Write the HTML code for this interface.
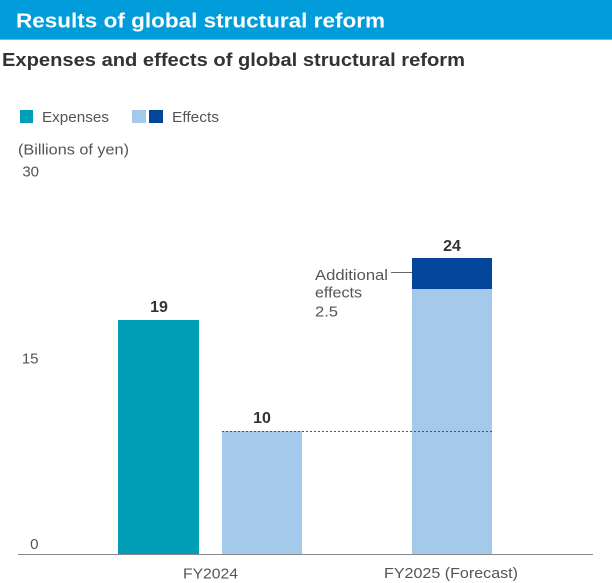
<!DOCTYPE html>
<html><head><meta charset="utf-8"><style>
html,body{margin:0;padding:0;background:#fff;}
svg{display:block;}
text{font-family:"Liberation Sans",sans-serif;}
</style></head><body>
<svg width="612" height="583" viewBox="0 0 612 583" xmlns="http://www.w3.org/2000/svg">
<rect x="0" y="0" width="612" height="40" fill="#009dda"/>
<rect x="0" y="39" width="612" height="1" fill="#5cbde6"/>
<text x="16" y="27.5" font-size="20" font-weight="bold" fill="#fff" textLength="369" lengthAdjust="spacingAndGlyphs">Results of global structural reform</text>
<text x="2" y="66" font-size="18" font-weight="bold" fill="#333" textLength="463" lengthAdjust="spacingAndGlyphs">Expenses and effects of global structural reform</text>

<rect x="20" y="110" width="13" height="13" fill="#009fb8"/>
<text x="42" y="122" font-size="15" fill="#555" textLength="67" lengthAdjust="spacingAndGlyphs">Expenses</text>
<rect x="132" y="110" width="14" height="13" fill="#a5c9ea"/>
<rect x="149" y="110" width="14" height="13" fill="#03459a"/>
<text x="172" y="122" font-size="15" fill="#555" textLength="47" lengthAdjust="spacingAndGlyphs">Effects</text>

<text x="18" y="154.5" font-size="15" fill="#555" textLength="111" lengthAdjust="spacingAndGlyphs">(Billions of yen)</text>
<text x="39" y="176.5" font-size="15" fill="#555" text-anchor="end">30</text>
<text x="38.5" y="363.5" font-size="15" fill="#555" text-anchor="end">15</text>
<text x="38.5" y="549" font-size="15" fill="#555" text-anchor="end">0</text>

<rect x="118" y="320" width="81" height="235" fill="#009fb8"/>
<rect x="222" y="431" width="80" height="124" fill="#a5c9ea"/>
<rect x="412" y="289" width="80" height="266" fill="#a5c9ea"/>
<rect x="412" y="258" width="80" height="31" fill="#03459a"/>

<line x1="222" y1="431.5" x2="492" y2="431.5" stroke="#555" stroke-width="1" stroke-dasharray="2,2"/>
<line x1="18" y1="554.5" x2="593" y2="554.5" stroke="#888" stroke-width="1"/>

<text x="159" y="312" font-size="16" font-weight="bold" fill="#333" text-anchor="middle">19</text>
<text x="262" y="423" font-size="16" font-weight="bold" fill="#333" text-anchor="middle">10</text>
<text x="452" y="251" font-size="16" font-weight="bold" fill="#333" text-anchor="middle">24</text>

<text x="315" y="280" font-size="15" fill="#555" textLength="73" lengthAdjust="spacingAndGlyphs">Additional</text>
<text x="315" y="297.5" font-size="15" fill="#555" textLength="47" lengthAdjust="spacingAndGlyphs">effects</text>
<text x="315" y="316.5" font-size="15" fill="#555" textLength="23" lengthAdjust="spacingAndGlyphs">2.5</text>
<line x1="391" y1="272.5" x2="412" y2="272.5" stroke="#666" stroke-width="1"/>

<text x="210.5" y="578.5" font-size="15" fill="#555" text-anchor="middle" textLength="55" lengthAdjust="spacingAndGlyphs">FY2024</text>
<text x="451" y="578" font-size="15" fill="#555" text-anchor="middle" textLength="134" lengthAdjust="spacingAndGlyphs">FY2025 (Forecast)</text>
</svg>
</body></html>
